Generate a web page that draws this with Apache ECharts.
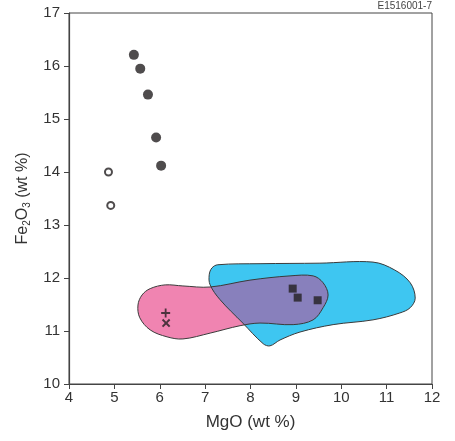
<!DOCTYPE html>
<html>
<head>
<meta charset="utf-8">
<script src="https://cdn.jsdelivr.net/npm/echarts@6/dist/echarts.min.js"></script>
<style>html,body{margin:0;padding:0;background:#fff;}#c{width:455px;height:441px;}</style>
</head>
<body>
<div id="c"></div>
<script>
const filledCircles = [[5.43,16.21],[5.57,15.95],[5.74,15.46],[5.92,14.65],[6.03,14.12]];
const openCircles = [[4.87,14.0],[4.92,13.37]];
const squares = [[8.93,11.80],[9.04,11.63],[9.48,11.58]];
const plusPts = [[6.13,11.34]];
const crossPts = [[6.14,11.15]];
const blueField = [[7.28,12.25],[8.21,12.27],[9.53,12.28],[10.70,12.30],[11.18,12.15],[11.52,11.91],[11.63,11.62],[11.52,11.44],[11.29,11.34],[10.70,11.21],[9.82,11.12],[9.09,10.98],[8.65,10.83],[8.43,10.72],[8.28,10.76],[7.83,11.15],[7.33,11.59],[7.11,11.87],[7.09,12.06],[7.15,12.19]];
const pinkField = [[5.52,11.49],[5.61,11.68],[5.79,11.80],[6.12,11.87],[6.51,11.85],[7.11,11.83],[7.99,11.96],[8.87,12.04],[9.38,12.04],[9.60,11.91],[9.71,11.68],[9.60,11.44],[9.38,11.21],[8.94,11.12],[8.21,11.15],[7.77,11.10],[7.11,10.96],[6.51,10.85],[6.16,10.89],[5.79,11.02],[5.56,11.25]];
const xTicks = {min:4, max:12, interval:1};
const yTicks = {min:10, max:17, interval:1};

const chart = echarts.init(document.getElementById('c'), null, {renderer:'canvas'});
const axisColor = '#444';
const labelColor = '#333';
const FONT = 'Liberation Sans, Arial, sans-serif';
const SM = 0.35;
const OVERLAP_FILL = '#8880bc';
let blueScreen = null;
chart.setOption({
  animation:false,
  grid:{left:69, right:23, top:13, bottom:57, show:true, borderColor:axisColor, borderWidth:1},
  graphic:[{type:'text', right:23, top:1, style:{text:'E1516001-7', fontSize:10, fill:'#444', fontFamily:FONT}}],
  xAxis:{type:'value', min:xTicks.min, max:xTicks.max, interval:xTicks.interval,
    splitLine:{show:false},
    axisLine:{lineStyle:{color:axisColor, width:1.2}},
    axisTick:{show:true, length:5, lineStyle:{color:axisColor}},
    axisLabel:{color:labelColor, fontSize:15, margin:6, fontFamily:FONT},
    name:'MgO (wt %)', nameLocation:'middle', nameGap:30,
    nameTextStyle:{color:labelColor, fontSize:17, fontFamily:FONT}},
  yAxis:{type:'value', min:yTicks.min, max:yTicks.max, interval:yTicks.interval,
    splitLine:{show:false},
    axisLine:{lineStyle:{color:axisColor, width:1.2}},
    axisTick:{show:true, length:5, lineStyle:{color:axisColor}},
    axisLabel:{color:labelColor, fontSize:15, margin:9, fontFamily:FONT},
    name:'{a|Fe}{s|2}{a|O}{s|3}{a| (wt %)}', nameLocation:'middle', nameGap:33,
    nameTextStyle:{color:labelColor, fontFamily:FONT,
      rich:{a:{fontSize:16, color:labelColor, lineHeight:20, fontFamily:FONT},
            s:{fontSize:10, color:labelColor, lineHeight:20, verticalAlign:'bottom', fontFamily:FONT}}}},
  series:[
    {type:'custom', coordinateSystem:'cartesian2d', data:[[8,12]], silent:true, clip:false,
      renderItem:function(params, api){
        const bp = blueField.map(p=>api.coord(p));
        const pp = pinkField.map(p=>api.coord(p));
        blueScreen = bp;
        return {type:'group', children:[
          {type:'polygon', z2:1, shape:{points:pp, smooth:SM}, style:{fill:'#f084b1', stroke:null}},
          {type:'polygon', z2:2, shape:{points:bp, smooth:SM}, style:{fill:'#3ec6f1', stroke:null}},
          {type:'polygon', z2:3, name:'overlap', shape:{points:pp, smooth:SM}, style:{fill:OVERLAP_FILL, stroke:null}},
          {type:'polygon', z2:4, shape:{points:bp, smooth:SM}, style:{fill:null, stroke:'#3a3a3a', lineWidth:1}},
          {type:'polygon', z2:5, shape:{points:pp, smooth:SM}, style:{fill:null, stroke:'#3a3a3a', lineWidth:1}}
        ]};
      }},
    {type:'scatter', data:filledCircles, symbol:'circle', symbolSize:10, itemStyle:{color:'#231f20'}, silent:true},
    {type:'scatter', data:openCircles, symbol:'circle', symbolSize:7, itemStyle:{color:'#fff', borderColor:'#231f20', borderWidth:2}, silent:true},
    {type:'scatter', data:squares, symbol:'rect', symbolSize:8, itemStyle:{color:'#231f20'}, silent:true},
    {type:'scatter', data:plusPts, symbol:'path://M4,0H6V4H10V6H6V10H4V6H0V4H4Z', symbolSize:9, itemStyle:{color:'#231f20'}, silent:true},
    {type:'scatter', data:crossPts, symbol:'path://M4,0H6V4H10V6H6V10H4V6H0V4H4Z', symbolSize:10, symbolRotate:45, itemStyle:{color:'#231f20'}, silent:true}
  ]
});
// Clip the overlap fill (pink shape) to the blue field so the intersection is purple.
(function(){
  const zr = chart.getZr();
  const list = zr.storage.getDisplayList(true);
  list.forEach(function(el){
    const isOverlap = el.name === 'overlap' || (el.style && el.style.fill === OVERLAP_FILL);
    if (isOverlap && blueScreen) {
      el.setClipPath(new echarts.graphic.Polygon({shape:{points:blueScreen, smooth:SM}}));
    }
  });
  zr.refreshImmediately();
})();
</script>
</body>
</html>
